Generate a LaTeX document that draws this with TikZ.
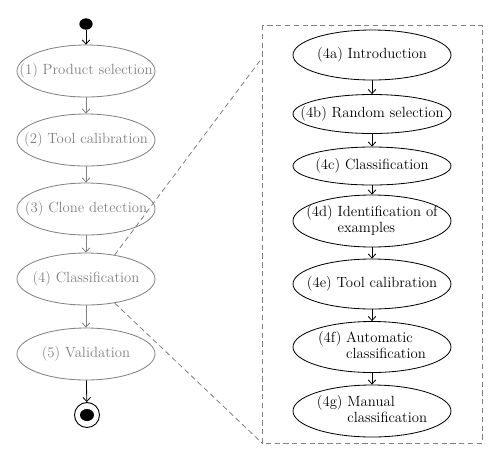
\documentclass[tikz,border=0pt]{standalone}
\usetikzlibrary{shapes.geometric,arrows.meta}

\tikzset{
	stage/.style={ellipse,draw=black!50,line width=0.7pt,inner sep=0pt,minimum width=4.14cm,minimum height=1.56cm,label={[text=black!50]center:#1}},
	substage/.style={ellipse,draw,line width=0.7pt,inner sep=0pt,minimum width=4.74cm,minimum height=1.5cm,label={center:{#1}}},
}

\newcommand{\steplabel}[2]{\begin{tabular}{@{}l@{ }l@{}}#1 & #2\end{tabular}}

\begin{document}
\begin{tikzpicture}[>={Straight Barb[length=3.5pt,width=6.5pt]},x=0.03cm,y=-0.03cm,font=\fontsize{12.6}{13.6}\selectfont]

\useasboundingbox (0,0) rectangle (500,463);

% main process
\node[ellipse,fill,inner sep=0pt,minimum width=0.4cm,minimum height=0.34cm] (start) at (86,24) {};
\node[stage={(1) Product selection}] (p1) at (86,71) {};
\node[stage={(2) Tool calibration}] (p2) at (86,140) {};
\node[stage={(3) Clone detection}] (p3) at (86,209) {};
\node[stage={(4) Classification}] (p4) at (86,279) {};
\node[stage={(5) Validation}] (p5) at (86,354) {};
\node[circle,draw,line width=0.8pt,inner sep=0pt,minimum size=0.75cm] (stop) at (87,415) {};
\fill (stop.center) ellipse (0.21cm and 0.18cm);

\draw[->,line width=0.7pt] (start)--(p1);
\foreach \a/\b in {p1/p2,p2/p3,p3/p4,p4/p5}{
	\draw[->,line width=0.7pt,color=black!50] (\a)--(\b);
}
\draw[->,line width=0.7pt] (p5)--(stop);

% detail of step 4
\draw[dashed,dash pattern=on 4.5pt off 3pt,line width=0.7pt,color=black!50] (262,25) coordinate (boxtl) rectangle (482,443) coordinate (boxbr);
\coordinate (boxbl) at (262,443);
\coordinate (boxin) at (262,58);

\node[substage={(4a) Introduction}] (s1) at (372,55) {};
\node[substage={(4b) Random selection},minimum height=1.17cm] (s2) at (372,114) {};
\node[substage={(4c) Classification},minimum height=1.14cm] (s3) at (372,166) {};
\node[substage={\steplabel{(4d)}{Identification of\\ & examples}},minimum height=1.56cm] (s4) at (372,221) {};
\node[substage={(4e) Tool calibration}] (s5) at (372,284) {};
\node[substage={\steplabel{(4f)}{Automatic\\ & classification}},minimum height=1.53cm] (s6) at (372,347) {};
\node[substage={\steplabel{(4g)}{Manual\\ & classification}},minimum height=1.56cm] (s7) at (372,411) {};

\foreach \a/\b in {s1/s2,s2/s3,s3/s4,s4/s5,s5/s6,s6/s7}{
	\draw[->,line width=0.7pt] (\a)--(\b);
}

\draw[dashed,dash pattern=on 4.5pt off 3pt,line width=0.7pt,color=black!50] (p4.40)--(boxin);
\draw[dashed,dash pattern=on 4.5pt off 3pt,line width=0.7pt,color=black!50] (p4.-40)--(boxbl);

\end{tikzpicture}
\end{document}
